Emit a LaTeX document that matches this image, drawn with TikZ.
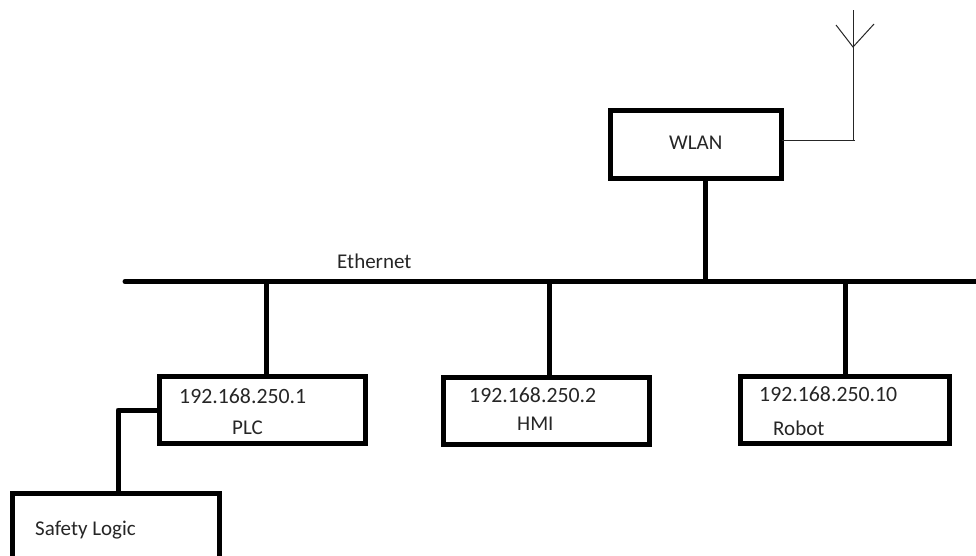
\documentclass[tikz,border=0pt]{standalone}
\usepackage{fontspec}
\setmainfont{Carlito}
\tikzset{
  box/.style={draw=black,line width=5.6pt,fill=white,anchor=north west,inner sep=0pt,outer sep=0pt},
  wire/.style={draw=black,line width=5pt},
  thinwire/.style={draw=black!85,line width=1pt},
  lab/.style={anchor=base west,inner sep=0pt,text=black!85,font=\fontsize{21}{24}\selectfont},
  iplab/.style={lab,font=\fontsize{21.8}{24}\selectfont}
}
\begin{document}
\begin{tikzpicture}[x=1pt,y=-1pt]
\useasboundingbox (0,0) rectangle (976,556);
% boxes
\node[box,minimum width=171pt,minimum height=68pt] (wlan) at (610.5,110.5) {};
\node[box,minimum width=206pt,minimum height=67pt] (plc) at (159.5,376.5) {};
\node[box,minimum width=206pt,minimum height=67pt] (hmi) at (443.5,377.5) {};
\node[box,minimum width=209pt,minimum height=67pt] (robot) at (740.5,376.5) {};
\node[box,minimum width=207pt,minimum height=90pt] (safety) at (12.5,493.5) {};
% labels
\node[lab] (twlan) at (669,150) {WLAN};
\node[lab] (teth) at (337,268) {Ethernet};
\node[iplab] (tplc1) at (179,403) {192.168.250.1};
\node[lab] (tplc2) at (232,434) {PLC};
\node[iplab] (thmi1) at (469,402) {192.168.250.2};
\node[lab] (thmi2) at (517,430) {HMI};
\node[iplab] (trob1) at (759,401) {192.168.250.10};
\node[lab] (trob2) at (773,435) {Robot};
\node[lab] (tsafe) at (35,535) {Safety Logic};
% bus
\coordinate (busL) at (125,281.5);
\coordinate (busR) at (976,281.5);
\draw[wire,line cap=round] (busL) -- (busR);
% taps
\coordinate (tapPLC) at (266,281.5);
\coordinate (tapHMI) at (549,281.5);
\coordinate (tapWLAN) at (705,281.5);
\coordinate (tapRobot) at (845,281.5);
\draw[wire] (tapPLC) -- (tapPLC |- plc.north);
\draw[wire] (tapHMI) -- (tapHMI |- hmi.north);
\draw[wire] (tapWLAN) -- (tapWLAN |- wlan.south);
\draw[wire] (tapRobot) -- (tapRobot |- robot.north);
% PLC to safety
\coordinate (plcOut) at (159.5,410);
\coordinate (safeIn) at (118,493.5);
\draw[wire,line join=round] (plcOut) -- (safeIn |- plcOut) -- (safeIn);
% antenna
\coordinate (antFoot) at (853,141);
\coordinate (antTop) at (853,10);
\coordinate (antFork) at (853,47);
\coordinate (armL) at (836,25);
\coordinate (armR) at (874,24);
\draw[thinwire] (wlan.east |- antFoot) -- (855,141);
\draw[thinwire] (antFoot) -- (antTop);
\draw[thinwire] (armL) -- (antFork) -- (armR);
\end{tikzpicture}
\end{document}
